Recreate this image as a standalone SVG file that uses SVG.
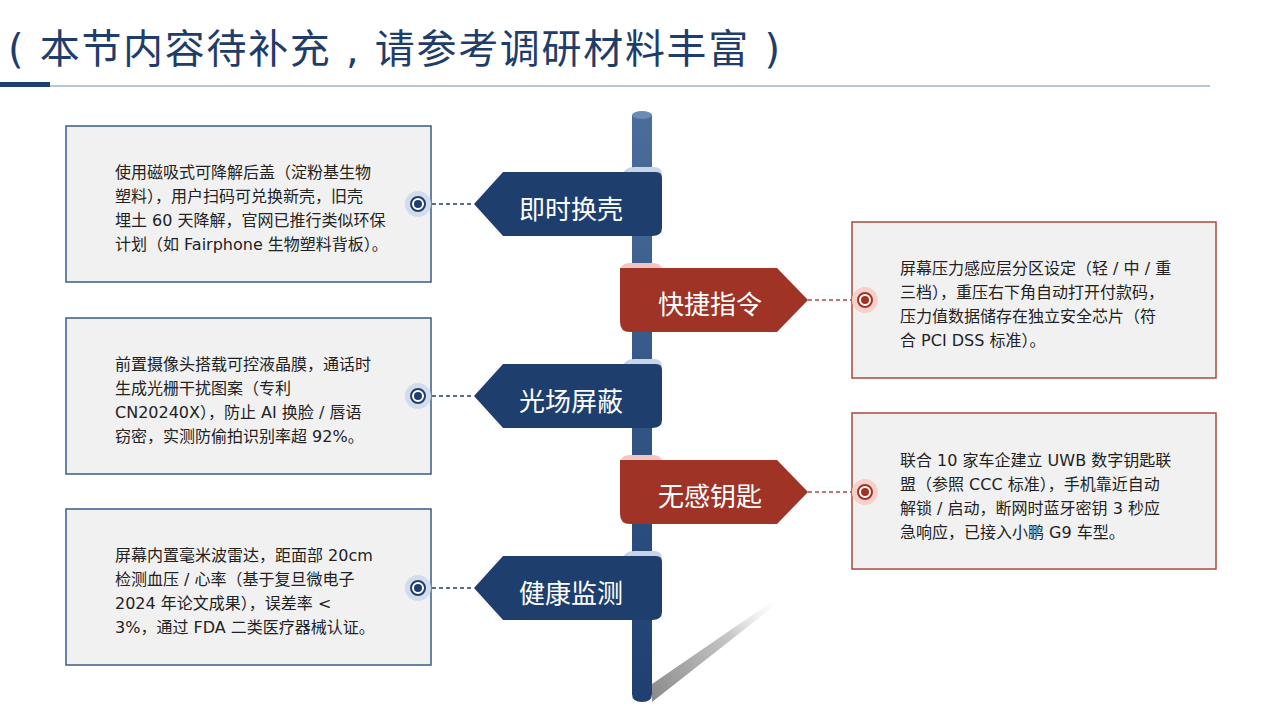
<svg xmlns="http://www.w3.org/2000/svg" width="1280" height="719" viewBox="0 0 1280 719">
<defs>
<style>
.title{font-family:"DejaVu Sans","Noto Sans CJK SC",sans-serif;font-size:40px;fill:#1f3d6a}
.body{font-family:"DejaVu Sans","Noto Sans CJK SC",sans-serif;font-size:16px;fill:#222}
.lbl{font-family:"Noto Sans CJK SC","Noto Sans",sans-serif;font-size:26px;fill:#fff;text-anchor:middle}
.boxB{fill:#f1f1f1;stroke:#3b5b85;stroke-width:1.5}
.boxR{fill:#f1f1f1;stroke:#a9483d;stroke-width:1.5}
.banB{fill:#1e3f6e}
.banR{fill:#9e3326}
.foldB{fill:#c8d5e4}
.foldR{fill:#f2c6c0}
.dashB{stroke:#1e3f6e;stroke-width:1.5;stroke-dasharray:4 3;fill:none}
.dashR{stroke:#a9483d;stroke-width:1.5;stroke-dasharray:4 3;fill:none}
.haloB{fill:#d3dcea}
.haloR{fill:#f7d0cc}
.ringB{fill:#fff;stroke:#1e3f6e;stroke-width:2}
.ringR{fill:#fff;stroke:#9e3326;stroke-width:2}
.dotB{fill:#1e3f6e}
.dotR{fill:#9e3326}
</style>
<linearGradient id="pole" x1="0" y1="0" x2="0" y2="1">
<stop offset="0" stop-color="#4a6d9c"/>
<stop offset="1" stop-color="#1e3f70"/>
</linearGradient>
<linearGradient id="shadow" x1="652" y1="700" x2="786" y2="595" gradientUnits="userSpaceOnUse">
<stop offset="0" stop-color="#8a8a8a"/>
<stop offset="0.6" stop-color="#c8c8c8"/>
<stop offset="1" stop-color="#ffffff" stop-opacity="0"/>
</linearGradient>
</defs>
<rect width="1280" height="719" fill="#ffffff"/>

<g id="header">
<text class="title" x="8" y="63" textLength="772" lengthAdjust="spacing">( 本节内容待补充 , 请参考调研材料丰富 )</text>
<line x1="0" y1="86" x2="1210" y2="86" stroke="#9fb3c8" stroke-width="1.5"/>
<rect x="0" y="82" width="50" height="5" fill="#1e3f6e"/>
</g>

<g id="pole-group">
<polygon points="652,702 652,684 783,594 787,596" fill="url(#shadow)"/>
<path d="M632,115 L652,115 L652,694 Q652,702 642,702 Q632,702 632,694 Z" fill="url(#pole)"/>
<ellipse cx="642" cy="115" rx="10" ry="4" fill="#6a8bb5"/>
</g>

<g id="connectors">
<line class="dashB" x1="425" y1="204" x2="474" y2="204"/>
<line class="dashR" x1="808" y1="300" x2="858" y2="300"/>
<line class="dashB" x1="425" y1="396" x2="474" y2="396"/>
<line class="dashR" x1="808" y1="492" x2="858" y2="492"/>
<line class="dashB" x1="425" y1="588" x2="474" y2="588"/>
</g>

<g id="banner1">
<path class="foldB" d="M622,176 Q624,167 634,167 L654,167 Q662,167 662,175 L662,190 L622,190 Z"/>
<path class="banB" d="M474,204 L503,172 L656,172 Q662,172 662,178 L662,228 Q662,236 652,236 L503,236 Z"/>
<text class="lbl" x="571" y="219">即时换壳</text>
</g>

<g id="banner2">
<path class="foldR" d="M620,272 Q620,263 630,263 L652,263 Q660,263 662,268 L662,280 L620,280 Z"/>
<path class="banR" d="M620,268 L777,268 L808,300 L777,332 L630,332 Q620,332 620,322 Z"/>
<text class="lbl" x="710" y="314">快捷指令</text>
</g>

<g id="banner3">
<path class="foldB" d="M622,368 Q624,359 634,359 L654,359 Q662,359 662,367 L662,382 L622,382 Z"/>
<path class="banB" d="M474,396 L503,364 L656,364 Q662,364 662,370 L662,420 Q662,428 652,428 L503,428 Z"/>
<text class="lbl" x="571" y="411">光场屏蔽</text>
</g>

<g id="banner4">
<path class="foldR" d="M620,464 Q620,455 630,455 L652,455 Q660,455 662,460 L662,472 L620,472 Z"/>
<path class="banR" d="M620,460 L777,460 L808,492 L777,524 L630,524 Q620,524 620,514 Z"/>
<text class="lbl" x="710" y="506">无感钥匙</text>
</g>

<g id="banner5">
<path class="foldB" d="M622,560 Q624,551 634,551 L654,551 Q662,551 662,559 L662,574 L622,574 Z"/>
<path class="banB" d="M474,588 L503,556 L656,556 Q662,556 662,562 L662,612 Q662,620 652,620 L503,620 Z"/>
<text class="lbl" x="571" y="603">健康监测</text>
</g>

<g id="box1">
<rect class="boxB" x="66" y="126" width="365" height="156"/>
<circle class="haloB" cx="418" cy="204" r="13"/>
<circle class="ringB" cx="418" cy="204" r="7"/>
<circle class="dotB" cx="418" cy="204" r="4"/>
<text class="body" x="115" y="178"><tspan x="115">使用磁吸式可降解后盖（淀粉基生物</tspan><tspan x="115" dy="24">塑料），用户扫码可兑换新壳，旧壳</tspan><tspan x="115" dy="24">埋土 60 天降解，官网已推行类似环保</tspan><tspan x="115" dy="24">计划（如 Fairphone 生物塑料背板）。</tspan></text>
</g>

<g id="box2">
<rect class="boxR" x="852" y="222" width="364" height="156"/>
<circle class="haloR" cx="865" cy="300" r="13"/>
<circle class="ringR" cx="865" cy="300" r="7"/>
<circle class="dotR" cx="865" cy="300" r="4"/>
<text class="body" x="900" y="274"><tspan x="900">屏幕压力感应层分区设定（轻 / 中 / 重</tspan><tspan x="900" dy="24">三档），重压右下角自动打开付款码，</tspan><tspan x="900" dy="24">压力值数据储存在独立安全芯片（符</tspan><tspan x="900" dy="24">合 PCI DSS 标准）。</tspan></text>
</g>

<g id="box3">
<rect class="boxB" x="66" y="318" width="365" height="156"/>
<circle class="haloB" cx="418" cy="396" r="13"/>
<circle class="ringB" cx="418" cy="396" r="7"/>
<circle class="dotB" cx="418" cy="396" r="4"/>
<text class="body" x="115" y="370"><tspan x="115">前置摄像头搭载可控液晶膜，通话时</tspan><tspan x="115" dy="24">生成光栅干扰图案（专利</tspan><tspan x="115" dy="24">CN20240X），防止 AI 换脸 / 唇语</tspan><tspan x="115" dy="24">窃密，实测防偷拍识别率超 92%。</tspan></text>
</g>

<g id="box4">
<rect class="boxR" x="852" y="413" width="364" height="156"/>
<circle class="haloR" cx="865" cy="492" r="13"/>
<circle class="ringR" cx="865" cy="492" r="7"/>
<circle class="dotR" cx="865" cy="492" r="4"/>
<text class="body" x="900" y="466"><tspan x="900">联合 10 家车企建立 UWB 数字钥匙联</tspan><tspan x="900" dy="24">盟（参照 CCC 标准），手机靠近自动</tspan><tspan x="900" dy="24">解锁 / 启动，断网时蓝牙密钥 3 秒应</tspan><tspan x="900" dy="24">急响应，已接入小鹏 G9 车型。</tspan></text>
</g>

<g id="box5">
<rect class="boxB" x="66" y="509" width="365" height="156"/>
<circle class="haloB" cx="418" cy="588" r="13"/>
<circle class="ringB" cx="418" cy="588" r="7"/>
<circle class="dotB" cx="418" cy="588" r="4"/>
<text class="body" x="115" y="561"><tspan x="115">屏幕内置毫米波雷达，距面部 20cm</tspan><tspan x="115" dy="24">检测血压 / 心率（基于复旦微电子</tspan><tspan x="115" dy="24">2024 年论文成果），误差率 &lt;</tspan><tspan x="115" dy="24">3%，通过 FDA 二类医疗器械认证。</tspan></text>
</g>
</svg>
